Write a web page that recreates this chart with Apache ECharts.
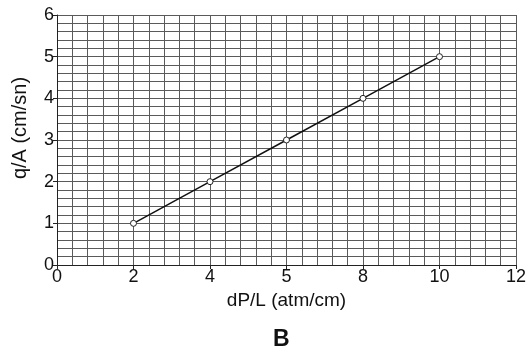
<!DOCTYPE html>
<html>
<head>
<meta charset="utf-8">
<script src="https://cdn.jsdelivr.net/npm/echarts@6/dist/echarts.min.js"></script>
<style>html,body{margin:0;padding:0;background:#fff;}#c{width:529px;height:355px;}</style>
</head>
<body>
<div id="c"></div>
<script>
var xValues = [2, 4, 6, 8, 10];
var yValues = [1, 2, 3, 4, 5];
var xTickLabels = ['0', '2', '4', '5', '8', '10', '12'];
var yTickLabels = ['0', '1', '2', '3', '4', '5', '6'];

var chart = echarts.init(document.getElementById('c'));
var font = 'Liberation Sans, Arial, sans-serif';
var gridLine = { show: true, lineStyle: { color: '#5a5a5a', width: 1 } };
chart.setOption({
  animation: false,
  backgroundColor: '#fff',
  grid: { left: 57, top: 15, right: 12, bottom: 90 },
  xAxis: {
    type: 'value', min: 0, max: 12, interval: 2,
    name: 'dP/L (atm/cm)', nameLocation: 'middle', nameGap: 26,
    nameTextStyle: { fontFamily: font, fontSize: 19, color: '#111' },
    axisLine: { show: true, lineStyle: { color: '#222', width: 1 } },
    axisTick: { show: true, length: 4, lineStyle: { color: '#222' } },
    axisLabel: { fontFamily: font, fontSize: 18, color: '#111', margin: 3,
      formatter: function (v) { return xTickLabels[Math.round(v / 2)]; } },
    splitLine: gridLine,
    minorTick: { show: false, splitNumber: 5 },
    minorSplitLine: gridLine
  },
  yAxis: {
    type: 'value', min: 0, max: 6, interval: 1,
    name: 'q/A (cm/sn)', nameLocation: 'middle', nameGap: 27, nameRotate: 90,
    nameTextStyle: { fontFamily: font, fontSize: 20, color: '#111', padding: [0, 0, 0, 24] },
    axisLine: { show: true, lineStyle: { color: '#222', width: 1 } },
    axisTick: { show: true, length: 4, lineStyle: { color: '#222' } },
    axisLabel: { fontFamily: font, fontSize: 18, color: '#111', margin: 3,
      formatter: function (v) { return yTickLabels[Math.round(v)]; } },
    splitLine: gridLine,
    minorTick: { show: false, splitNumber: 5 },
    minorSplitLine: gridLine
  },
  graphic: [{
    type: 'text', left: 273, top: 328,
    style: { text: 'B', fontFamily: font, fontSize: 23, fontWeight: 'bold', fill: '#111' }
  }],
  series: [{
    type: 'line',
    data: xValues.map(function (x, i) { return [x, yValues[i]]; }),
    symbol: 'circle', symbolSize: 6,
    itemStyle: { color: '#fff', borderColor: '#222', borderWidth: 1 },
    lineStyle: { color: '#111', width: 1.5 },
    z: 5
  }]
});
</script>
</body>
</html>
